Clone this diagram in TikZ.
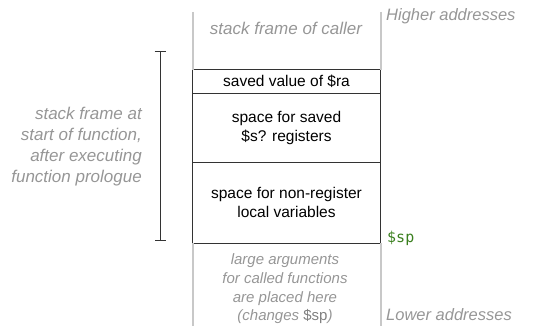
\documentclass[tikz,border=0pt]{standalone}
\usepackage{fontspec}
\setmainfont{Liberation Sans}
\setmonofont{DejaVu Sans Mono}
\usetikzlibrary{positioning,arrows.meta}
\definecolor{wallgray}{HTML}{C8C8C8}
\definecolor{notegray}{HTML}{969696}
\definecolor{boxline}{HTML}{333333}
\definecolor{spgreen}{HTML}{3A7F1E}

\begin{document}
\begin{tikzpicture}[x=1pt,y=-1pt,
  slot/.style={draw=boxline,line width=1pt,minimum width=188pt,inner sep=0pt,outer sep=0pt,
    align=center,font=\fontsize{15.5}{19}\selectfont},
  wall/.style={wallgray,line width=2pt},
  note/.style={text=notegray,inner sep=0pt,font=\fontsize{17}{21}\selectfont\itshape},
  small note/.style={note,font=\fontsize{15}{18.7}\selectfont\itshape}]
\useasboundingbox (0,0) rectangle (546,326);
% the three slots of the frame
\node[slot,minimum height=24pt] (ra) at (286.5,81.7) {saved value of \$ra};
\node[slot,minimum height=68.3pt,below=0pt of ra] (sregs) {space for saved\\\$s? registers};
\node[slot,minimum height=81.3pt,below=0pt of sregs] (locals) {space for non-register\\local variables};
% stack walls
\coordinate (wallNW) at (192.5,12);
\coordinate (wallNE) at (380.5,12);
\coordinate (wallSW) at (192.5,326);
\coordinate (wallSE) at (380.5,326);
\draw[wall] (wallNW) -- (ra.north west);
\draw[wall] (wallNE) -- (ra.north east);
\draw[wall] (locals.south west) -- (wallSW);
\draw[wall] (locals.south east) -- (wallSE);
% bracket
\coordinate (frameTop) at (160,51);
\coordinate (frameBot) at (160,241);
\draw[boxline,line width=1pt,{Bar[width=11pt]}-{Bar[width=11pt]}] (frameTop) -- (frameBot);
\node[note] (caller) at (286,28) {stack frame of caller};
\node[note,anchor=west,font=\fontsize{16.5}{20}\selectfont\itshape] (high) at (386,16) {Higher addresses};
\node[note,anchor=west,font=\fontsize{16.5}{20}\selectfont\itshape] (low) at (386,315) {Lower addresses};
\node[note,align=right,anchor=east] (frame) at (142,146.5)
  {stack frame at\\start of function,\\after executing\\function prologue};
\node[small note,align=center] (args) at (285,289)
  {large arguments\\for called functions\\are placed here\\(changes {\upshape\color{gray}\$sp})};
\node[anchor=west,inner sep=0pt,text=spgreen,font=\fontsize{15}{18}\selectfont\ttfamily] (sp) at (387,238) {\$sp};
\end{tikzpicture}
\end{document}
